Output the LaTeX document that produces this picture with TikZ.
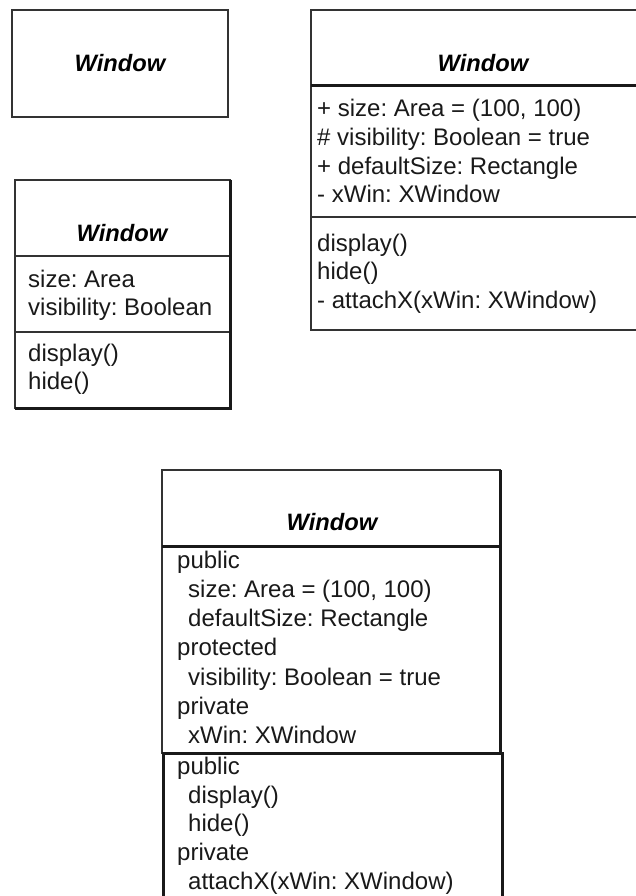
\documentclass[tikz,border=0pt]{standalone}
\usepackage{fontspec}
\setmainfont{Liberation Sans}
\frenchspacing
\begin{document}
\begin{tikzpicture}[x=1pt,y=-1pt]
\tikzstyle{bord} = [draw=black!80,line width=1.5pt] %trait fin
\tikzstyle{epais} = [draw=black!90,line width=3pt] %trait epais
\tikzstyle{titre} = [font=\fontsize{23.7}{28}\selectfont\bfseries\itshape,anchor=base,inner sep=0pt]
\tikzstyle{ligne} = [font=\fontsize{24}{28}\selectfont,anchor=base west,inner sep=0pt,text=black!90]

\useasboundingbox (0,0) rectangle (636,896);
\clip (0,0) rectangle (636,896);

%classe sans compartiments
\draw[bord] (12,10) rectangle (228,117);
\node[titre] (tA) at (120,72) {Window};

%classe avec attributs et operations
\draw[bord] (15,180) rectangle (230,408);
\draw[bord] (15,256)--(230,256);
\draw[bord] (15,332)--(230,332);
\draw[epais] (230,180)--(230,408)--(15,408);
\node[titre] (tB) at (122,241) {Window};
\node[ligne] (b1) at (28,287) {size: Area};
\node[ligne] (b2) at (28,315) {visibility: Boolean};
\node[ligne] (b3) at (28,361) {display()};
\node[ligne] (b4) at (28,389) {hide()};

%classe avec visibilite
\draw[bord] (311,10) rectangle (655,330);
\draw[epais] (311,86)--(655,86);
\draw[bord] (311,217)--(655,217);
\node[titre] (tC) at (483,72) {Window};
\node[ligne] (c1) at (317,117) {+ size: Area = (100, 100)};
\node[ligne] (c2) at (317,146) {\# visibility: Boolean = true};
\node[ligne] (c3) at (317,175) {+ defaultSize: Rectangle};
\node[ligne] (c4) at (317,203) {- xWin: XWindow};
\node[ligne] (c5) at (317,251) {display()};
\node[ligne] (c6) at (317,279) {hide()};
\node[ligne] (c7) at (317,308) {- attachX(xWin: XWindow)};

%classe avec sections public / protected / private
\draw[bord] (162,470) rectangle (500,753);
\draw[epais] (162,546)--(500,546);
\draw[epais] (500,470)--(500,753);
\draw[epais] (163,753) rectangle (502,930);
\node[titre] (tD) at (332,530) {Window};
\node[ligne] (d1) at (177,568) {public};
\node[ligne] (d2) at (188,597) {size: Area = (100, 100)};
\node[ligne] (d3) at (188,626) {defaultSize: Rectangle};
\node[ligne] (d4) at (177,655) {protected};
\node[ligne] (d5) at (188,685) {visibility: Boolean = true};
\node[ligne] (d6) at (177,714) {private};
\node[ligne] (d7) at (188,743) {xWin: XWindow};
\node[ligne] (d8) at (177,774) {public};
\node[ligne] (d9) at (188,803) {display()};
\node[ligne] (d10) at (188,831) {hide()};
\node[ligne] (d11) at (177,860) {private};
\node[ligne] (d12) at (188,889) {attachX(xWin: XWindow)};
\end{tikzpicture}
\end{document}
